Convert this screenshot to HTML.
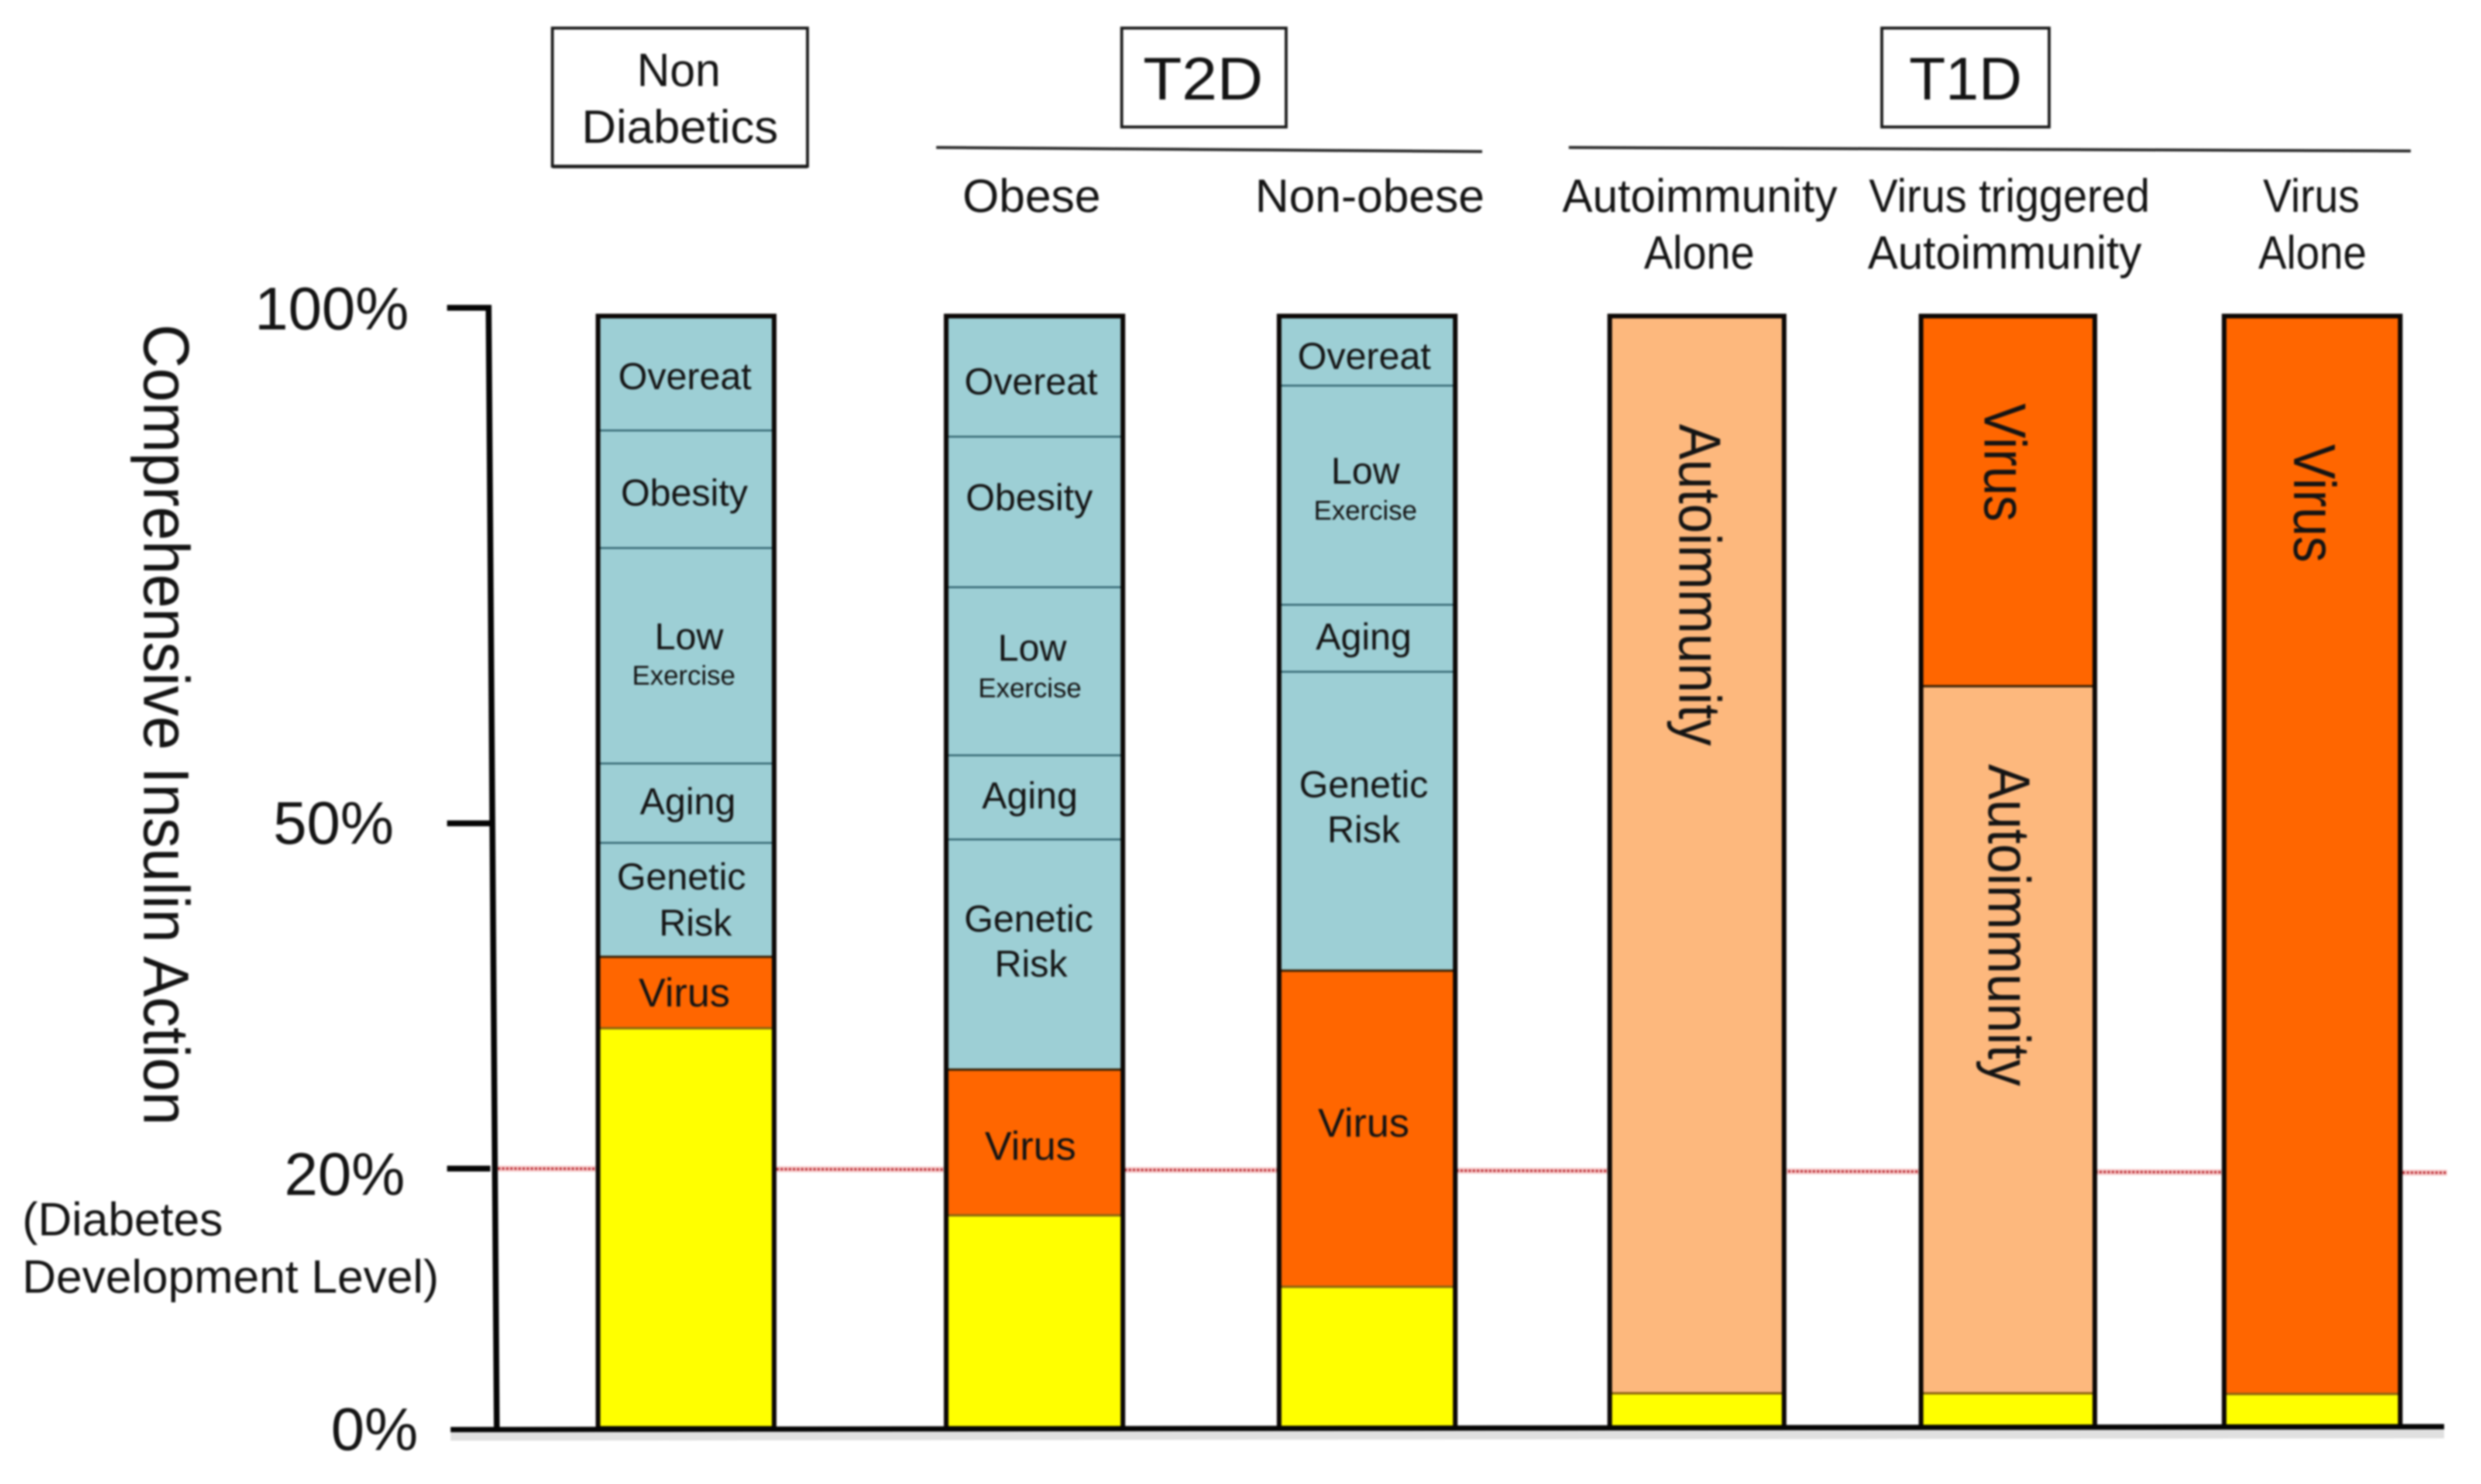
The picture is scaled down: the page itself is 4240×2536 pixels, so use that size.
<!DOCTYPE html>
<html lang="en">
<head>
<meta charset="utf-8">
<title>Comprehensive Insulin Action by Diabetes Type</title>
<style>
  html, body { margin: 0; padding: 0; background: #fff; }
  body { width: 4240px; height: 2536px; overflow: hidden; }
  svg { display: block; filter: blur(1.5px); }
  text { font-family: "Liberation Sans", sans-serif; fill: #141414; }
</style>
</head>
<body>
<svg id="chart" xmlns="http://www.w3.org/2000/svg" width="4240" height="2536" viewBox="0 0 4240 2536">
  <rect x="0" y="0" width="4240" height="2536" fill="#ffffff"/>

  <g>
    <rect x="944" y="48" width="436" height="236" fill="#fff" stroke="#1a1a1a" stroke-width="5"/>
    <line x1="944" y1="285" x2="1380" y2="285" stroke="#1a1a1a" stroke-width="5"/>
    <text x="1160" y="147" font-size="80" text-anchor="middle" textLength="143" lengthAdjust="spacingAndGlyphs">Non</text>
    <text x="1162" y="244" font-size="80" text-anchor="middle" textLength="336" lengthAdjust="spacingAndGlyphs">Diabetics</text>

    <rect x="1917" y="48" width="281" height="169" fill="#fff" stroke="#1a1a1a" stroke-width="5"/>
    <text x="2067" y="170" font-size="103" text-anchor="middle" textLength="205" lengthAdjust="spacingAndGlyphs" transform="translate(-11,0)">T2D</text>
    <line x1="1600" y1="252" x2="2533" y2="259" stroke="#2a2a2a" stroke-width="5"/>
    <text x="1763" y="362" font-size="80" text-anchor="middle" textLength="236" lengthAdjust="spacingAndGlyphs">Obese</text>
    <text x="2341" y="362" font-size="80" text-anchor="middle" textLength="392" lengthAdjust="spacingAndGlyphs">Non-obese</text>

    <rect x="3216" y="48" width="286" height="169" fill="#fff" stroke="#1a1a1a" stroke-width="5"/>
    <text x="3359" y="170" font-size="103" text-anchor="middle" textLength="193" lengthAdjust="spacingAndGlyphs">T1D</text>
    <line x1="2681" y1="252" x2="4120" y2="258" stroke="#2a2a2a" stroke-width="5"/>
    <text x="2905" y="362" font-size="80" text-anchor="middle" textLength="470" lengthAdjust="spacingAndGlyphs">Autoimmunity</text>
    <text x="2904" y="459" font-size="80" text-anchor="middle" textLength="189" lengthAdjust="spacingAndGlyphs">Alone</text>
    <text x="3434" y="362" font-size="80" text-anchor="middle" textLength="480" lengthAdjust="spacingAndGlyphs">Virus triggered</text>
    <text x="3426" y="459" font-size="80" text-anchor="middle" textLength="468" lengthAdjust="spacingAndGlyphs">Autoimmunity</text>
    <text x="3950" y="362" font-size="80" text-anchor="middle" textLength="165" lengthAdjust="spacingAndGlyphs">Virus</text>
    <text x="3952" y="459" font-size="80" text-anchor="middle" textLength="185" lengthAdjust="spacingAndGlyphs">Alone</text>
  </g>

  <text transform="translate(246,554) rotate(90)" font-size="110" textLength="1369" lengthAdjust="spacingAndGlyphs">Comprehensive Insulin Action</text>
  <text x="38" y="2111" font-size="80" textLength="343" lengthAdjust="spacingAndGlyphs">(Diabetes</text>
  <text x="38" y="2209" font-size="80" textLength="712" lengthAdjust="spacingAndGlyphs">Development Level)</text>

  <g id="threshold-layer"></g>
  <g id="bars-layer"></g>
  <g id="axis-layer"></g>
</svg>

<script>
// ---- Chart data (percent of comprehensive insulin action) ----
const categories = ['Non Diabetics', 'T2D Obese', 'T2D Non-obese', 'Autoimmunity Alone', 'Virus triggered Autoimmunity', 'Virus Alone'];
const remainingValues = [32.2, 16.4, 10.9, 2.7, 2.7, 2.65];
const autoimmunityValues = [0, 0, 0, 96.5, 60.6, 0];
const virusValues = [6.2, 12.2, 26.3, 0, 35.9, 96.55];
const geneticRiskValues = [9.9, 20.0, 27.5, 0, 0, 0];
const agingValues = [7.5, 8.0, 6.5, 0, 0, 0];
const lowExerciseValues = [20.9, 16.3, 21.25, 0, 0, 0];
const obesityValues = [11.4, 14.6, 0, 0, 0, 0];
const overeatValues = [11.1, 11.7, 6.75, 0, 0, 0];
const tickValues = [0, 20, 50, 100];
const tickLabels = ['0%', '20%', '50%', '100%'];
const thresholdValue = 20;

// ---- Axis functions ----
function yAxis(v) {
  // The drawn axis is not evenly spaced: its ticks sit at these pixels.
  if (v <= 20) return 2441 - (v / 20) * 444;
  if (v <= 50) return 1997 - ((v - 20) / 30) * 590;
  return 1407 - ((v - 50) / 50) * 881;
}
function xLeft(i) {
  return [1022, 1617, 2186, 2751, 3283, 3801][i];
}
function xRight(i) {
  return [1323, 1919, 2487, 3049, 3580, 4102][i];
}

// ---- Styling and label placement ----
const svgNS = 'http://www.w3.org/2000/svg';
const teal = '#9dcfd5';
const yellow = '#ffff00';
const seriesList = [
  { key: 'remaining', values: remainingValues, fill: yellow, lines: [] },
  { key: 'autoimmunity', values: autoimmunityValues, fill: '#fdb87d', lines: ['Autoimmunity'] },
  { key: 'virus', values: virusValues, fill: '#ff6600', lines: ['Virus'] },
  { key: 'genetic-risk', values: geneticRiskValues, fill: teal, lines: ['Genetic', 'Risk'] },
  { key: 'aging', values: agingValues, fill: teal, lines: ['Aging'] },
  { key: 'low-exercise', values: lowExerciseValues, fill: teal, lines: ['Low', 'Exercise'] },
  { key: 'obesity', values: obesityValues, fill: teal, lines: ['Obesity'] },
  { key: 'overeat', values: overeatValues, fill: teal, lines: ['Overeat'] }
];
// Hand-tuned label offsets from the centre of a segment: [series][bar][line] = [dx, dy]
const labelNudges = {
  'overeat': [[[-2, 4]], [[-6, 8]], [[-5, 8]]],
  'obesity': [[[-3, 5]], [[-9, -26]]],
  'low-exercise': [[[5, -34], [-4, 33]], [[-4, -41], [-8, 28]], [[-3, -43], [-3, 25]]],
  'aging': [[[3, -4]], [[-8, -4]], [[-6, -4]]],
  'genetic-risk': [[[-8, -41], [16, 38]], [[-10, -62], [-6, 15]], [[-6, -64], [-6, 13]]],
  'virus': [[[-3, -1]], [[-7, 5]], [[-6, -11]]]
};
const rotatedNudges = {
  'autoimmunity': { 3: [-30, -461], 4: [-33, -196] },
  'virus': { 4: [-40, -66], 5: [-31, -601] }
};

function make(tag, attrs, parent) {
  const el = document.createElementNS(svgNS, tag);
  Object.keys(attrs).forEach(function (k) { el.setAttribute(k, attrs[k]); });
  parent.appendChild(el);
  return el;
}
function slug(s) { return s.toLowerCase().replace(/[^a-z0-9]+/g, '-'); }

// ---- Threshold line ----
const thresholdLayer = document.getElementById('threshold-layer');
const halo = make('line', { x1: 851, y1: yAxis(thresholdValue), x2: 4182, y2: yAxis(thresholdValue) + 7, stroke: '#f6c9c9', 'stroke-width': 10 }, thresholdLayer);


const thresholdLine = make('line', { x1: 851, y1: yAxis(thresholdValue), x2: 4182, y2: yAxis(thresholdValue) + 7, stroke: '#b8262e', 'stroke-width': 4, 'stroke-dasharray': '4 3' }, thresholdLayer);



// ---- Stacked bars ----
const barsLayer = document.getElementById('bars-layer');
categories.forEach(function (category, i) {
  const group = make('g', {}, barsLayer);
  
  

  const left = xLeft(i);
  const barWidth = xRight(i) - left;
  const mid = left + barWidth / 2;
  let cum = 0;
  let previousFill = null;
  let drawnAny = false;

  seriesList.forEach(function (series) {
    const value = series.values[i];
    if (!value) return;
    const yBottom = yAxis(cum);
    const yTop = yAxis(cum + value);
    cum += value;

    const seg = make('rect', { x: left, y: yTop, width: barWidth, height: yBottom - yTop, fill: series.fill }, group);
    
    

    if (drawnAny) {
      const bothTeal = previousFill === teal && series.fill === teal;
      const overYellow = previousFill === yellow;
      const dividerColour = bothTeal ? '#2c5f6b' : overYellow ? '#8a6410' : '#3a2206';
      const divider = make('line', { x1: left, y1: yBottom, x2: left + barWidth, y2: yBottom, stroke: dividerColour, 'stroke-width': bothTeal ? 3 : 4 }, group);
      
      
    }
    previousFill = series.fill;
    drawnAny = true;

    const cy = (yTop + yBottom) / 2;
    const rotated = rotatedNudges[series.key] && rotatedNudges[series.key][i];
    if (rotated) {
      const label = make('text', {
        transform: 'translate(' + (mid + rotated[0]) + ',' + (cy + rotated[1]) + ') rotate(90)',
        'font-size': 101, 'text-anchor': 'middle',
        textLength: series.key === 'virus' ? 202 : 550, lengthAdjust: 'spacingAndGlyphs'
      }, group);
      label.textContent = series.lines[0];
      
      
    } else if (series.lines.length && labelNudges[series.key] && labelNudges[series.key][i]) {
      series.lines.forEach(function (line, n) {
        const nudge = labelNudges[series.key][i][n];
        const size = line === 'Exercise' ? 46 : line === 'Virus' ? 69 : 64;
        const label = make('text', { x: mid + nudge[0], y: cy + nudge[1] + size * 0.36, 'font-size': size, 'text-anchor': 'middle' }, group);
        label.textContent = line;
        
        
      });
    }
  });

  const outline = make('rect', { x: left, y: yAxis(cum), width: barWidth, height: yAxis(0) - yAxis(cum), fill: 'none', stroke: '#0c0806', 'stroke-width': 8 }, group);
  
  
});

// ---- Axes ----
const axisLayer = document.getElementById('axis-layer');
const axisShadow = make('line', { x1: 770, y1: yAxis(0) + 13, x2: 4177, y2: yAxis(0) + 9, stroke: '#e0e0e0', 'stroke-width': 16 }, axisLayer);


const xAxisLine = make('line', { x1: 770, y1: yAxis(0) + 2, x2: 4177, y2: yAxis(0) - 3, stroke: '#050505', 'stroke-width': 9 }, axisLayer);


const yAxisLine = make('line', { x1: 835, y1: yAxis(100) - 5, x2: 849, y2: yAxis(0) + 3, stroke: '#050505', 'stroke-width': 10 }, axisLayer);



// Tick label placement differs per tick in the original slide.
function tickLabelCentre(v) { return v === 100 ? 567 : v === 50 ? 570 : v === 20 ? 589 : 640; }
function tickLabelDrop(v) { return v === 20 ? 45 : v === 50 ? 35 : 37; }
tickValues.forEach(function (v, i) {
  if (v !== 0) {
    const tick = make('line', { x1: 764, y1: yAxis(v), x2: 838, y2: yAxis(v), stroke: '#050505', 'stroke-width': 10 }, axisLayer);
    
    
  }
  const label = make('text', { x: tickLabelCentre(v), y: yAxis(v) + tickLabelDrop(v), 'font-size': 103, 'text-anchor': 'middle' }, axisLayer);
  label.textContent = tickLabels[i];
  
  
});
</script>
</body>
</html>
